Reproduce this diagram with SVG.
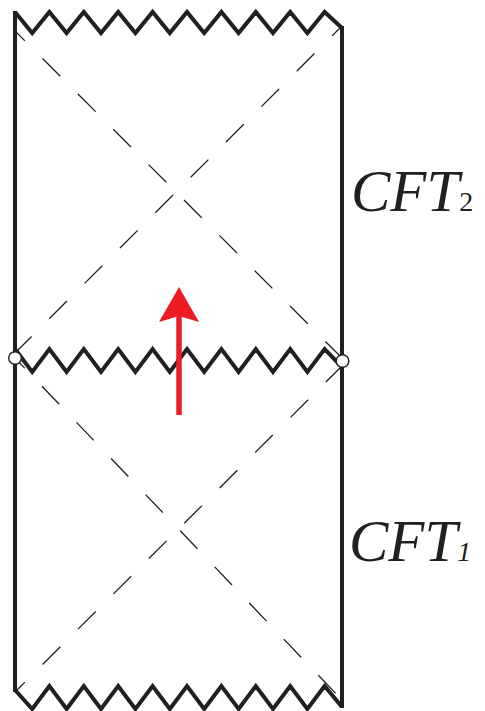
<svg xmlns="http://www.w3.org/2000/svg" width="485" height="711" viewBox="0 0 485 711">
  <defs>
    <style>
      .edge { fill: none; stroke: #231f20; stroke-width: 4; stroke-linejoin: miter; stroke-miterlimit: 10; }
      .diag { fill: none; stroke: #231f20; stroke-width: 1.3; stroke-dasharray: 25 25; stroke-dashoffset: 11; }
      .bdry { fill: #ffffff; stroke: #231f20; stroke-width: 1.4; }
      .lbl { font-family: "Liberation Serif", "Times New Roman", serif; font-style: italic; fill: #231f20; }
    </style>
  </defs>
  <rect width="485" height="711" fill="#ffffff"/>

  <g id="upper-region">
    <path class="diag" d="M15,31 L342,358"/>
    <path class="diag" d="M342,26 L15,353"/>
    <polyline class="edge" points="342,28 324.6,12 307.4,33 290.2,12 273,33 255.8,12 238.6,33 221.4,12 204.2,33 187,12 169.8,33 152.6,12 135.4,33 118.2,12 101,33 83.8,12 66.6,33 49.4,12 32.2,33 15,12"/>
  </g>

  <g id="lower-region">
    <path class="diag" d="M15,358 L342,700"/>
    <path class="diag" d="M15,692 L342,366"/>
    <polyline class="edge" points="15,690 32.2,709 49.4,686 66.6,709 83.8,686 101,709 118.2,686 135.4,709 152.6,686 169.8,709 187,686 204.2,709 221.4,686 238.6,709 255.8,686 273,709 290.2,686 307.4,709 324.6,686 342,707"/>
  </g>

  <g id="boundaries">
    <line class="edge" x1="15" y1="11" x2="15" y2="692"/>
    <line class="edge" x1="342" y1="26" x2="342" y2="708"/>
  </g>

  <g id="horizon">
    <polyline class="edge" points="15,349 32.2,372 49.4,349 66.6,372 83.8,349 101,372 118.2,349 135.4,372 152.6,349 169.8,372 187,349 204.2,372 221.4,349 238.6,372 255.8,349 273,372 290.2,349 307.4,372 324.6,349 342,367"/>
  </g>

  <g id="connectors">
    <line x1="179" y1="415" x2="179" y2="312" stroke="#ed1c24" stroke-width="5.5"/>
    <path d="M179,287 L199,322 L179,316 L159,322 Z" fill="#ed1c24"/>
  </g>

  <g id="left-point">
    <circle class="bdry" cx="15" cy="358" r="6.3"/>
  </g>
  <g id="right-point">
    <circle class="bdry" cx="342.5" cy="361" r="6.3"/>
  </g>

  <g id="label-cft2">
    <text class="lbl" x="351" y="211" font-size="59">CFT<tspan font-size="28" font-style="normal">2</tspan></text>
  </g>
  <g id="label-cft1">
    <text class="lbl" x="349" y="561" font-size="59">CFT<tspan font-size="28">1</tspan></text>
  </g>
</svg>
